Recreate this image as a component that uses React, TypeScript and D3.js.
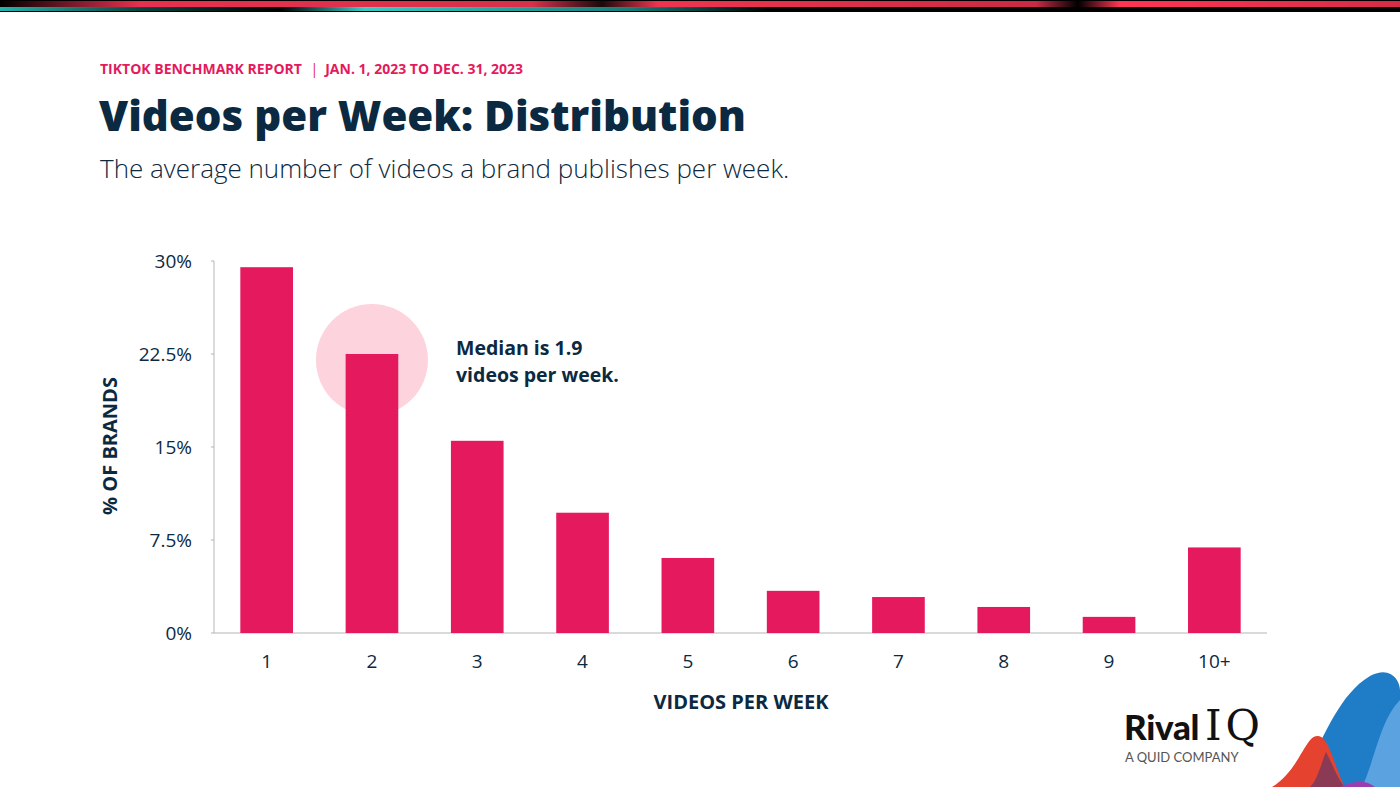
import React from "react";
import * as d3 from "d3";

const categories = ["1", "2", "3", "4", "5", "6", "7", "8", "9", "10+"];
const values = [29.5, 22.5, 15.5, 9.7, 6.05, 3.4, 2.9, 2.1, 1.3, 6.9];
const yTicks = [0, 7.5, 15, 22.5, 30];
const yTickLabels = ["0%", "7.5%", "15%", "22.5%", "30%"];

const W = 1400, H = 787;
const M = { left: 214, right: 1267, top: 261, bottom: 633 };
const NAVY = "#0b2a42";
const PINK = "#e5195d";
const FONT = "'Open Sans', 'Noto Sans', sans-serif";

export default function App() {
  const x = d3.scaleBand<string>().domain(categories).range([M.left, M.right]).paddingInner(0.5).paddingOuter(0.25);
  const y = d3.scaleLinear().domain([0, 30]).range([M.bottom, M.top]);
  const medianCx = (x("2") as number) + x.bandwidth() / 2;

  return (
    <svg width={W} height={H} style={{ position: "absolute", left: 0, top: 0, background: "#fff" }} fontFamily={FONT}>
      <defs>
        <linearGradient id="topRed" x1="0" x2="1">
          <stop offset="0" stopColor="#000" />
          <stop offset="0.1" stopColor="#e8304f" />
          <stop offset="0.38" stopColor="#d8304c" />
          <stop offset="0.43" stopColor="#1a0a0a" />
          <stop offset="0.47" stopColor="#f03450" />
          <stop offset="0.74" stopColor="#c92a45" />
          <stop offset="0.77" stopColor="#000" />
          <stop offset="0.8" stopColor="#ff3455" />
          <stop offset="1" stopColor="#d42c48" />
        </linearGradient>
        <linearGradient id="topTeal" x1="0" x2="1">
          <stop offset="0" stopColor="#2ac8c0" />
          <stop offset="0.1" stopColor="#0d4a45" />
          <stop offset="0.2" stopColor="#000" />
          <stop offset="0.26" stopColor="#40e0d8" />
          <stop offset="0.45" stopColor="#1a8a85" />
          <stop offset="0.55" stopColor="#000" />
          <stop offset="1" stopColor="#000" />
        </linearGradient>
      </defs>
      <rect x={0} y={0} width={W} height={12} fill="#000" />
      <rect x={0} y={1} width={W} height={7} fill="url(#topRed)" />
      <rect x={0} y={7} width={W} height={4} fill="url(#topTeal)" opacity={0.9} />

      <text x={100} y={74} fill={PINK} fontSize={14} fontWeight={700}>
        TIKTOK BENCHMARK REPORT <tspan dx={5} fontWeight={400}>|</tspan><tspan dx={7}>JAN. 1, 2023 TO DEC. 31, 2023</tspan>
      </text>
      <text x={99} y={131} fill={NAVY} fontSize={42} fontWeight={800}>Videos per Week: Distribution</text>
      <text x={100} y={178} fill={NAVY} fontSize={26} fontWeight={300}>The average number of videos a brand publishes per week.</text>

      {/* median highlight */}
      <circle cx={medianCx} cy={360} r={56} fill="#fdd4de" />

      {/* axes */}
      <line x1={M.left} x2={M.left} y1={M.top} y2={M.bottom} stroke="#b5b5b5" strokeWidth={1} />
      <line x1={M.left} x2={M.right} y1={M.bottom} y2={M.bottom} stroke="#b5b5b5" strokeWidth={1} />
      {yTicks.map((t, i) => (
        <g key={t}>
          <line x1={M.left - 3} x2={M.left} y1={y(t)} y2={y(t)} stroke="#b5b5b5" />
          <text x={192} y={y(t) + 7} textAnchor="end" fontSize={19} fill={NAVY}>{yTickLabels[i]}</text>
        </g>
      ))}

      {categories.map((c, i) => (
        <g key={c}>
          <rect x={x(c)} y={y(values[i])} width={x.bandwidth()} height={y(0) - y(values[i])} fill={PINK} />
          <text x={(x(c) as number) + x.bandwidth() / 2} y={668} textAnchor="middle" fontSize={19} fill={NAVY}>{c}</text>
        </g>
      ))}

      <text x={456} y={355} fontSize={19.5} fontWeight={700} fill={NAVY}>Median is 1.9</text>
      <text x={456} y={382} fontSize={19.5} fontWeight={700} fill={NAVY}>videos per week.</text>

      <text x={741} y={709} textAnchor="middle" fontSize={20} fontWeight={700} fill={NAVY}>VIDEOS PER WEEK</text>
      <text transform={`translate(117, 446) rotate(-90)`} textAnchor="middle" fontSize={20} fontWeight={700} fill={NAVY}>% OF BRANDS</text>

      {/* logo */}
      <text x={1124} y={740} fontSize={35} fontWeight={900} fill="#111" fontFamily="'Lato', sans-serif" letterSpacing={-0.3}>Rival</text>
      <text x={1205} y={740} fontSize={42} fontWeight={300} fill="#111" fontFamily="'DejaVu Serif', serif" letterSpacing={4}>IQ</text>
      <text x={1125} y={762} fontSize={13} fill="#555" fontFamily="'Lato', sans-serif">A QUID COMPANY</text>

      <path d="M1290,787 C1320,760 1330,700 1370,676 C1390,665 1400,680 1400,690 L1400,787 Z" fill="#1f7dc8" />
      <path d="M1362,787 C1375,760 1380,720 1400,700 L1400,787 Z" fill="#5aa2e0" />
      <path d="M1272,787 C1300,770 1305,735 1318,736 C1330,737 1335,770 1345,787 Z" fill="#e5432f" />
      <path d="M1326,752 C1333,765 1338,780 1345,787 L1310,787 C1318,780 1322,760 1326,752 Z" fill="#8a3a55" />
      <path d="M1340,787 C1350,782 1365,778 1375,787 Z" fill="#9b3fae" />
    </svg>
  );
}
